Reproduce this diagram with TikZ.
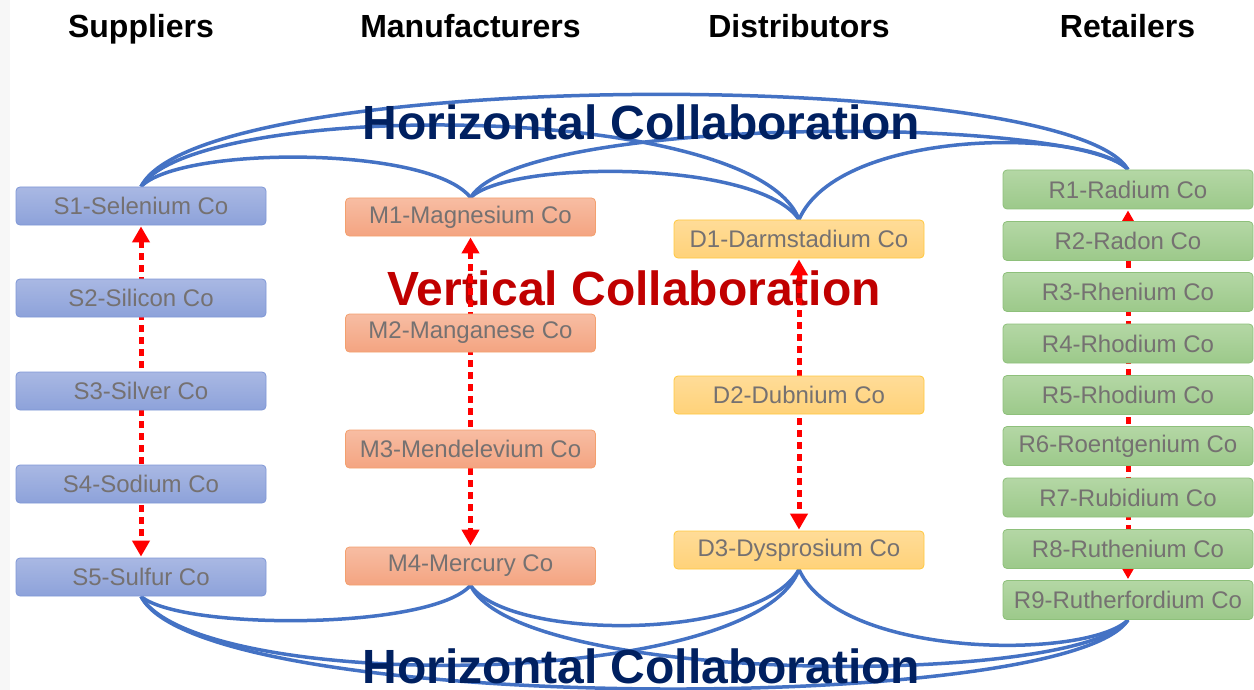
\documentclass[tikz,border=0pt]{standalone}
\usepackage{fontspec}
\setmainfont{Liberation Sans}
\usetikzlibrary{arrows.meta,backgrounds}

\definecolor{linkblue}{HTML}{4472C4}
\definecolor{titlenavy}{HTML}{002060}
\definecolor{titlered}{HTML}{C00000}
\definecolor{boxtext}{HTML}{757171}
\definecolor{supTop}{HTML}{A9B8E3}
\definecolor{supBot}{HTML}{8DA2DA}
\definecolor{supEdge}{HTML}{7F97D6}
\definecolor{manTop}{HTML}{F7BDA3}
\definecolor{manBot}{HTML}{F4A481}
\definecolor{manEdge}{HTML}{F3A06E}
\definecolor{disTop}{HTML}{FFDC98}
\definecolor{disBot}{HTML}{FFD279}
\definecolor{disEdge}{HTML}{FFC83D}
\definecolor{retTop}{HTML}{B4D7A5}
\definecolor{retBot}{HTML}{9CC98A}
\definecolor{retEdge}{HTML}{8EC07B}

\tikzset{
  company/.style={rounded corners=4pt, minimum width=250pt, minimum height=38pt,
    inner sep=0pt, text=boxtext, font=\fontsize{24}{26}\selectfont, line width=0.8pt},
  supbox/.style={company, draw=supEdge, top color=supTop, bottom color=supBot},
  manbox/.style={company, draw=manEdge, top color=manTop, bottom color=manBot},
  disbox/.style={company, draw=disEdge, top color=disTop, bottom color=disBot},
  retbox/.style={company, draw=retEdge, top color=retTop, bottom color=retBot, minimum height=39pt},
  header/.style={anchor=base, font=\bfseries\fontsize{32}{38}\selectfont},
  hlabel/.style={anchor=base, text=titlenavy, font=\bfseries\fontsize{48}{56}\selectfont},
  vlabel/.style={anchor=base, text=titlered, font=\bfseries\fontsize{48}{56}\selectfont},
  hlink/.style={draw=linkblue, line width=3.5pt},
  vlink/.style={draw=red, line width=5pt, dash pattern=on 7pt off 5pt,
    {Triangle[width=17pt,length=16pt]}-{Triangle[width=17pt,length=16pt]},
    shorten <=1pt, shorten >=1pt},
}

\begin{document}
\begin{tikzpicture}[x=1pt,y=-1pt]
\useasboundingbox (0,0) rectangle (1254,690);

% column headers
\node[header] (hS) at (141,37.5) {Suppliers};
\node[header] (hM) at (470.5,37.5) {Manufacturers};
\node[header] (hD) at (799,37.5) {Distributors};
\node[header] (hR) at (1127.5,37.5) {Retailers};

% suppliers
\node[supbox] (S1) at (141,206) {S1-Selenium Co};
\node[supbox] (S2) at (141,298) {S2-Silicon Co};
\node[supbox] (S3) at (141,391) {S3-Silver Co};
\node[supbox] (S4) at (141,484) {S4-Sodium Co};
\node[supbox] (S5) at (141,577) {S5-Sulfur Co};

% manufacturers
\node[manbox] (M1) at (470.5,217) {M1-Magnesium Co};
\node[manbox] (M2) at (470.5,333) {M2-Manganese Co};
\node[manbox] (M3) at (470.5,449) {M3-Mendelevium Co};
\node[manbox] (M4) at (470.5,566) {M4-Mercury Co};

% distributors
\node[disbox] (D1) at (799,239) {D1-Darmstadium Co};
\node[disbox] (D2) at (799,395) {D2-Dubnium Co};
\node[disbox] (D3) at (799,550) {D3-Dysprosium Co};

% retailers
\node[retbox] (R1) at (1128,189.5) {R1-Radium Co};
\node[retbox] (R2) at (1128,241) {R2-Radon Co};
\node[retbox] (R3) at (1128,292) {R3-Rhenium Co};
\node[retbox] (R4) at (1128,343.5) {R4-Rhodium Co};
\node[retbox] (R5) at (1128,395) {R5-Rhodium Co};
\node[retbox] (R6) at (1128,446) {R6-Roentgenium Co};
\node[retbox] (R7) at (1128,497.5) {R7-Rubidium Co};
\node[retbox] (R8) at (1128,549) {R8-Ruthenium Co};
\node[retbox] (R9) at (1128,600) {R9-Rutherfordium Co};

\begin{scope}[on background layer]
\fill[black!3] (0,0) rectangle (10,690);

% horizontal collaboration links, top row
\path[hlink] (S1.north) .. controls +(60,-120) and +(-60,-103) .. (R1.north);
\path[hlink] (S1.north) .. controls +(55,-87) and +(-45,-120) .. (D1.north);
\path[hlink] (S1.north) .. controls +(40,-41) and +(-40,-52) .. (M1.north);
\path[hlink] (M1.north) .. controls +(40,-38) and +(-40,-60) .. (D1.north);
\path[hlink] (M1.north) .. controls +(50,-83) and +(-50,-55) .. (R1.north);
\path[hlink] (D1.north) .. controls +(40,-92) and +(-40,-42) .. (R1.north);

% horizontal collaboration links, bottom row
\path[hlink] (S5.south) .. controls +(60,119) and +(-60,96) .. (R9.south);
\path[hlink] (S5.south) .. controls +(55,96) and +(-45,123) .. (D3.south);
\path[hlink] (S5.south) .. controls +(40,34) and +(-40,45) .. (M4.south);
\path[hlink] (M4.south) .. controls +(40,56) and +(-40,72) .. (D3.south);
\path[hlink] (M4.south) .. controls +(50,101) and +(-50,67) .. (R9.south);
\path[hlink] (D3.south) .. controls +(40,90) and +(-40,40) .. (R9.south);

% titles
\node[hlabel] (htop) at (641.5,140) {Horizontal Collaboration};
\node[hlabel] (hbot) at (641.5,683) {Horizontal Collaboration};
\node[vlabel] (vmid) at (634,305) {Vertical Collaboration};

% vertical collaboration arrows
\path[vlink] (S1.south) -- (S5.north);
\path[vlink] (M1.south) -- (M4.north);
\path[vlink] (D1.south) -- (D3.north);
\path[vlink] (R1.south) -- (R9.north);
\end{scope}
\end{tikzpicture}
\end{document}
